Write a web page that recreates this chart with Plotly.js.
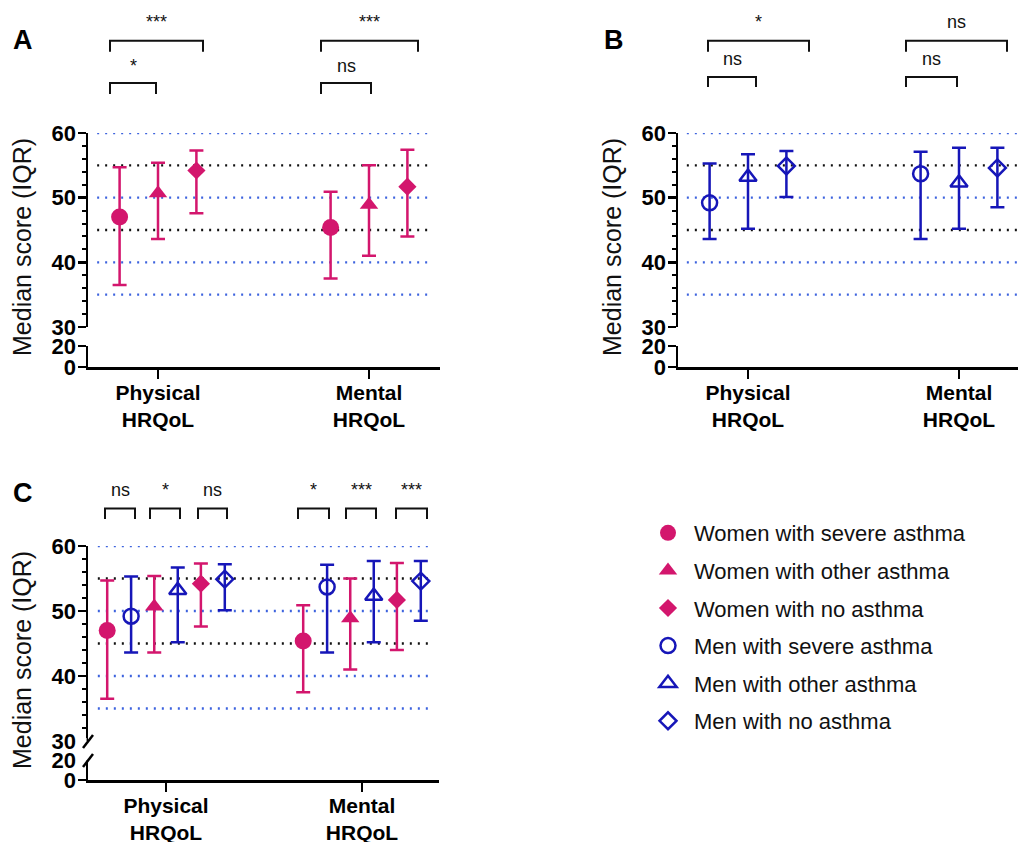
<!DOCTYPE html>
<html>
<head>
<meta charset="utf-8">
<script src="https://cdn.plot.ly/plotly-3.0.1.min.js"></script>
<style>html,body{margin:0;padding:0;background:#fff;}#chart{width:1018px;height:842px;}</style>
</head>
<body>
<div id="chart"></div>
<script>
// ---------------- DATA ----------------
const categories = ['Physical<br>HRQoL', 'Mental<br>HRQoL'];
const groupNames = ['Women with severe asthma', 'Women with other asthma', 'Women with no asthma',
                    'Men with severe asthma', 'Men with other asthma', 'Men with no asthma'];
// medians and IQR limits, [Physical, Mental]
const wSevereMed = [47.0, 45.4], wSevereQ1 = [36.5, 37.5], wSevereQ3 = [54.7, 50.9];
const wOtherMed  = [50.7, 48.9], wOtherQ1  = [43.6, 41.0], wOtherQ3  = [55.4, 55.0];
const wNoMed     = [54.2, 51.7], wNoQ1     = [47.6, 44.0], wNoQ3     = [57.3, 57.4];
const mSevereMed = [49.2, 53.7], mSevereQ1 = [43.6, 43.6], mSevereQ3 = [55.3, 57.1];
const mOtherMed  = [53.2, 52.3], mOtherQ1  = [45.2, 45.2], mOtherQ3  = [56.7, 57.7];
const mNoMed     = [54.9, 54.6], mNoQ1     = [50.1, 48.5], mNoQ3     = [57.2, 57.7];
// reference lines
const refBlue = [35, 40, 50, 60];
const refBlack = [45, 55];
// significance labels
const sigA = ['***', '*', '***', 'ns'];
const sigB = ['*', 'ns', 'ns', 'ns'];
const sigC = ['ns', '*', 'ns', '*', '***', '***'];
const yTitle = 'Median score (IQR)';
const panelLetters = ['A', 'B', 'C'];

// ---------------- STYLE ----------------
const W = 1018, H = 842;
const PINK = '#d3166d', BLUE = '#1616b8', GRIDBLUE = '#3d63de', BLACK = '#111';
const FONT = 'Liberation Sans, Arial, Helvetica, sans-serif';
const px = x => x / W;
const py = y => 1 - y / H;

const meds = [wSevereMed, wOtherMed, wNoMed, mSevereMed, mOtherMed, mNoMed];
const q1s = [wSevereQ1, wOtherQ1, wNoQ1, mSevereQ1, mOtherQ1, mNoQ1];
const q3s = [wSevereQ3, wOtherQ3, wNoQ3, mSevereQ3, mOtherQ3, mNoQ3];
const colors = [PINK, PINK, PINK, BLUE, BLUE, BLUE];
const symbols = ['circle', 'triangle-up', 'diamond', 'circle-open', 'triangle-up-open', 'diamond-open'];
const sizes = [17, 16, 14, 15, 15, 13];
const offsABC = [-0.182, 0, 0.182];
const offsC = [-0.30, -0.06, 0.178, -0.178, 0.06, 0.30];

function mkTrace(g, xa, ya, off, showleg) {
  return {
    type: 'scatter', mode: 'markers', name: groupNames[g],
    x: categories.map((c, i) => i + 1 + off),
    y: meds[g],
    xaxis: xa, yaxis: ya,
    showlegend: showleg, legendgroup: 'g' + g,
    marker: { symbol: symbols[g], size: sizes[g], color: colors[g], line: { color: colors[g], width: g >= 3 ? 2.5 : 0 } },
    error_y: {
      type: 'data', symmetric: false,
      array: meds[g].map((m, i) => q3s[g][i] - m),
      arrayminus: meds[g].map((m, i) => m - q1s[g][i]),
      color: colors[g], thickness: 2.5, width: 7
    },
    hoverinfo: 'name+y'
  };
}
// empty trace so the lower (broken) axis segment exists
function axisHolder(xa, ya) {
  return { type: 'scatter', mode: 'markers', x: [], y: [], xaxis: xa, yaxis: ya, showlegend: false, hoverinfo: 'skip' };
}

const traces = [];
traces.push(axisHolder('x', 'y2'), axisHolder('x2', 'y4'), axisHolder('x3', 'y6'));
for (let g = 0; g < 3; g++) traces.push(mkTrace(g, 'x', 'y', offsABC[g], false));
for (let g = 3; g < 6; g++) traces.push(mkTrace(g, 'x2', 'y3', offsABC[g - 3], false));
for (let g = 0; g < 6; g++) traces.push(mkTrace(g, 'x3', 'y5', offsC[g], true));

const tickFont = { family: FONT, size: 22, color: '#000', weight: 'bold' };
function xAx(dom, range, anchor) {
  return {
    domain: dom, range: range, anchor: anchor, tickmode: 'array', tickvals: [1, 2], ticktext: categories,
    showline: true, linewidth: 2.5, linecolor: '#000', ticks: 'outside', ticklen: 9, tickwidth: 2.5, tickcolor: '#000',
    showgrid: false, zeroline: false, tickfont: { family: FONT, size: 21, color: '#000', weight: 'bold' },
    ticklabelstandoff: -4, fixedrange: true
  };
}
function yUp(dom, anchor) {
  return {
    domain: dom, range: [30, 60], anchor: anchor, tickmode: 'linear', tick0: 30, dtick: 10,
    showline: true, linewidth: 2.5, linecolor: '#000', ticks: 'outside', ticklen: 8, tickwidth: 2.5, tickcolor: '#000',
    minor: { tick0: 30, dtick: 2, ticks: 'outside', ticklen: 4, tickwidth: 2, tickcolor: '#000', showgrid: false },
    showgrid: false, zeroline: false, tickfont: tickFont, ticklabelstandoff: -3, fixedrange: true
  };
}
function yLow(dom, anchor) {
  return {
    domain: dom, range: [0, 20], anchor: anchor, tickmode: 'array', tickvals: [0, 20],
    showline: true, linewidth: 2.5, linecolor: '#000', ticks: 'outside', ticklen: 8, tickwidth: 2.5, tickcolor: '#000',
    showgrid: false, zeroline: false, tickfont: tickFont, ticklabelstandoff: -3, fixedrange: true
  };
}

const shapes = [];
const annotations = [];
function refLines(xref, yref, x0, x1) {
  refBlue.forEach(v => shapes.push({ type: 'line', layer: 'below', xref: xref, yref: yref, x0: x0, x1: x1, y0: v, y1: v,
    line: { color: GRIDBLUE, width: 2.3, dash: '2px,6px' } }));
  refBlack.forEach(v => shapes.push({ type: 'line', layer: 'below', xref: xref, yref: yref, x0: x0, x1: x1, y0: v, y1: v,
    line: { color: BLACK, width: 2.3, dash: '2px,6px' } }));
}
refLines('x domain', 'y', 0.026, 0.98);
refLines('x2 domain', 'y3', 0.026, 1);
refLines('x3 domain', 'y5', 0.028, 0.983);

function bracket(x0, x1, yTop, yLeg, label, ly) {
  shapes.push({ type: 'path', xref: 'paper', yref: 'paper',
    path: 'M' + px(x0) + ',' + py(yLeg) + ' L' + px(x0) + ',' + py(yTop) + ' L' + px(x1) + ',' + py(yTop) + ' L' + px(x1) + ',' + py(yLeg),
    line: { color: '#111', width: 2 } });
  annotations.push({ xref: 'paper', yref: 'paper', x: px((x0 + x1) / 2), y: py(ly), text: label, showarrow: false,
    xanchor: 'center', yanchor: 'middle', font: { family: FONT, size: 18, color: '#111' } });
}
// Panel A
bracket(110, 203, 40.7, 51.7, sigA[0], 22);
bracket(110, 156, 83, 94, sigA[1], 66);
bracket(321, 418, 40.7, 51.7, sigA[2], 22);
bracket(321, 371, 83, 94, sigA[3], 66);
// Panel B
bracket(708, 809, 40.7, 51.7, sigB[0], 22);
bracket(708, 756, 77, 87, sigB[1], 59);
bracket(906, 1007, 40.7, 51.7, sigB[2], 22);
bracket(906, 957, 77, 87, sigB[3], 59);
// Panel C
const cBr = [[105, 135], [150, 180], [198, 227], [298, 329], [346, 376], [396, 427]];
cBr.forEach((b, i) => bracket(b[0], b[1], 508.5, 519, sigC[i], 490));

// C axis break: cover ticks at 30 & 20, draw slashes
shapes.push({ type: 'rect', xref: 'paper', yref: 'paper', x0: px(77.5), x1: px(86.6), y0: py(738), y1: py(744.5),
  fillcolor: '#fff', line: { width: 0 } });
shapes.push({ type: 'rect', xref: 'paper', yref: 'paper', x0: px(77.5), x1: px(86.6), y0: py(757), y1: py(763),
  fillcolor: '#fff', line: { width: 0 } });
shapes.push({ type: 'line', xref: 'paper', yref: 'paper', x0: px(83), y0: py(748), x1: px(93), y1: py(735), line: { color: '#000', width: 2.5 } });
shapes.push({ type: 'line', xref: 'paper', yref: 'paper', x0: px(83), y0: py(767), x1: px(93), y1: py(754), line: { color: '#000', width: 2.5 } });

// titles & letters
[[22, 247], [612, 247], [22, 660]].forEach(p => annotations.push({
  xref: 'paper', yref: 'paper', x: px(p[0]), y: py(p[1]), text: yTitle, textangle: -90, showarrow: false,
  xanchor: 'center', yanchor: 'middle', font: { family: FONT, size: 25, color: '#111' } }));
[[23, 40], [614, 40], [23, 493]].forEach((p, i) => annotations.push({
  xref: 'paper', yref: 'paper', x: px(p[0]), y: py(p[1]), text: panelLetters[i], showarrow: false,
  xanchor: 'center', yanchor: 'middle', font: { family: FONT, size: 27, color: '#000', weight: 'bold' } }));

const layout = {
  width: W, height: H, margin: { l: 0, r: 0, t: 0, b: 0 },
  paper_bgcolor: '#fff', plot_bgcolor: 'rgba(0,0,0,0)',
  font: { family: FONT, color: '#111' },
  showlegend: true,
  legend: { x: px(642), y: py(512), xanchor: 'left', yanchor: 'top', bgcolor: 'rgba(0,0,0,0)',
    font: { family: FONT, size: 22, color: '#111' }, tracegroupgap: 6, itemwidth: 42 },
  xaxis: xAx([px(88), px(440)], [1 - 70 / 211, 2 + 71 / 211], 'y2'),
  yaxis: yUp([py(327), py(133)], 'x'),
  yaxis2: yLow([py(367), py(346)], 'x'),
  xaxis2: xAx([px(678), 1], [1 - 70 / 211, 2 + 59 / 211], 'y4'),
  yaxis3: yUp([py(327), py(133)], 'x2'),
  yaxis4: yLow([py(367), py(346)], 'x2'),
  xaxis3: xAx([px(88), px(439)], [1 - 78 / 196, 2 + 77 / 196], 'y6'),
  yaxis5: yUp([py(741), py(546)], 'x3'),
  yaxis6: yLow([py(780), py(760)], 'x3'),
  shapes: shapes,
  annotations: annotations
};

Plotly.newPlot('chart', traces, layout, { displayModeBar: false, staticPlot: true });
</script>
</body>
</html>
